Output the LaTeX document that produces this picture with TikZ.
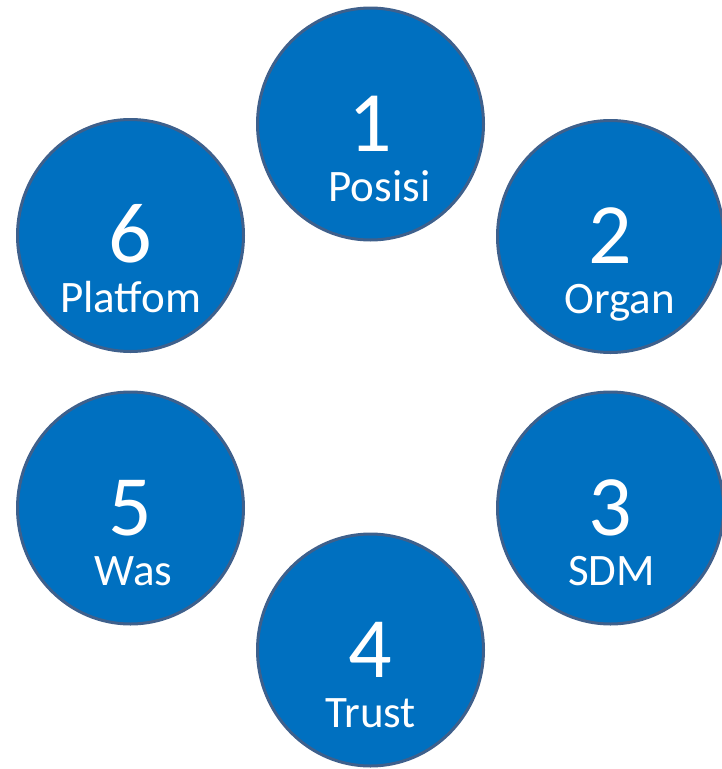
\documentclass[tikz,border=0pt]{standalone}
\usepackage{fontspec}
\setmainfont{Carlito}
\usetikzlibrary{shapes.geometric}
\definecolor{discfill}{RGB}{0,112,192}
\definecolor{discline}{RGB}{62,96,140}
\newcommand{\disc}[5]{
	\node [draw=discline, fill=discfill, ellipse, line width=3pt, minimum width=226pt, minimum height=232pt] (#1) at (#2) {};
	\node [text=white, anchor=base, inner sep=0pt, font=\fontsize{86}{86}\selectfont] (#1num) at ([yshift=-27pt]#1.center) {#3};
	\node [text=white, anchor=base, inner sep=0pt, font=\fontsize{45}{45}\selectfont] (#1txt) at ([xshift=#5, yshift=-77pt]#1.center) {#4};}

\begin{document}
\begin{tikzpicture}[x=1pt,y=-1pt]
	\useasboundingbox (0,0) rectangle (721,769);
	\disc{posisi}{370.5,124}{1}{Posisi}{9pt}
	\disc{organ}{610.5,236.5}{2}{Organ}{9pt}
	\disc{sdm}{610.5,508}{3}{SDM}{1pt}
	\disc{trust}{370.5,650}{4}{Trust}{0pt}
	\disc{was}{130.5,508}{5}{Was}{3pt}
	\disc{platfom}{130.5,235.5}{6}{Platfom}{0pt}
\end{tikzpicture}
\end{document}
